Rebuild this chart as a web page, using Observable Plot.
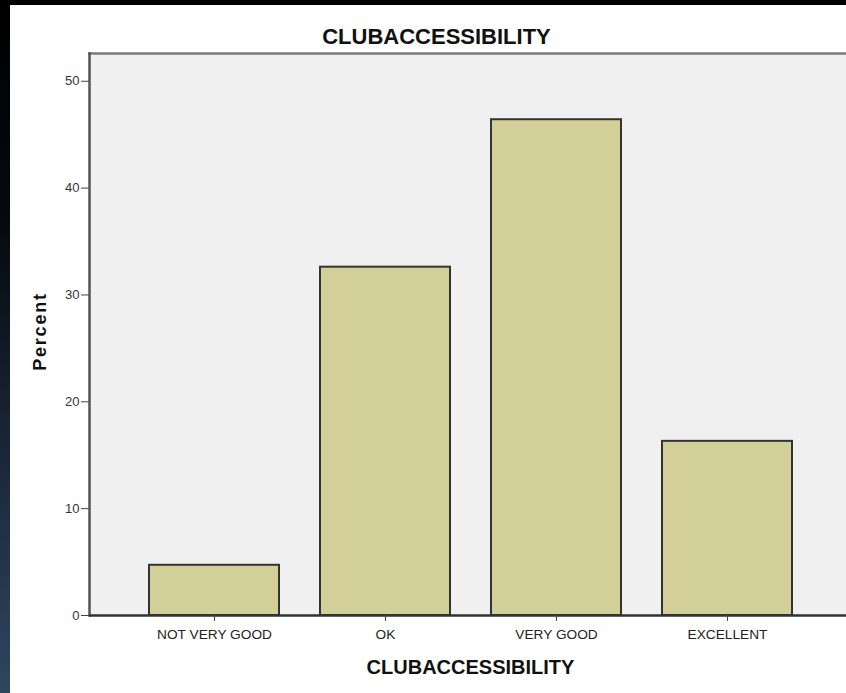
<!DOCTYPE html>
<html>
<head>
<meta charset="utf-8">
<script src="https://cdn.jsdelivr.net/npm/d3@7"></script>
<script src="https://cdn.jsdelivr.net/npm/@observablehq/plot@0.6"></script>
<style>
  html, body { margin: 0; padding: 0; width: 846px; height: 693px; overflow: hidden; background: #000; }
  #strip { position: absolute; left: 0; top: 0; width: 10px; height: 693px;
    background: linear-gradient(to bottom, #000 0%, #05080d 30%, #1a2638 65%, #30465f 100%); }
  #panel { position: absolute; left: 10px; top: 5px; width: 836px; height: 688px; background: #fff; }
  #chart { position: absolute; left: 0; top: 0; width: 860px; height: 693px; }
  #chart svg { background: transparent; overflow: visible; max-width: none !important; }
</style>
</head>
<body>
<div id="strip"></div>
<div id="panel"></div>
<div id="chart"></div>
<script>
const categories = ["NOT VERY GOOD", "OK", "VERY GOOD", "EXCELLENT"];
const percents = [4.7, 32.6, 46.4, 16.3];
const yTicks = [0, 10, 20, 30, 40, 50];
const chartTitle = "CLUBACCESSIBILITY";
const xLabel = "CLUBACCESSIBILITY";
const yLabel = "Percent";

const data = categories.map((c, i) => ({cat: c, pct: percents[i]}));
const yMax = 52.6;

const font = "'Liberation Sans', Arial, sans-serif";

const chart = Plot.plot({
  width: 860,
  height: 693,
  marginLeft: 89,
  marginTop: 53,
  marginBottom: 78,
  marginRight: 9,
  style: {fontFamily: font, background: "transparent", maxWidth: "none"},
  x: {domain: categories, paddingInner: 0.242, paddingOuter: 0.344, label: null},
  y: {domain: [0, yMax], label: null},
  marks: [
    Plot.frame({fill: "#f0f0f0", stroke: null}),
    Plot.frame({anchor: "top", stroke: "#7a7a7a", strokeWidth: 2.5}),
    Plot.barY(data, {x: "cat", y: "pct", fill: "#d3cf99", stroke: "#333", strokeWidth: 2}),
    Plot.frame({anchor: "left", stroke: "#555", strokeWidth: 2.5}),
    Plot.ruleY([0], {stroke: "#333", strokeWidth: 2.5}),
    Plot.axisY({ticks: yTicks, tickSize: 8, tickPadding: 2, fontSize: 13, stroke: "#444", fill: "#333", label: null}),
    Plot.axisX({tickSize: 6, tickPadding: 8, fontSize: 13.7, stroke: "#444", fill: "#222", label: null}),
    Plot.text([chartTitle], {frameAnchor: "top", lineAnchor: "bottom", dx: -34, dy: -10, fontSize: 22, fontWeight: "bold", fill: "#111"}),
    Plot.text([xLabel], {frameAnchor: "bottom", lineAnchor: "bottom", dy: 58, fontSize: 20, fontWeight: "bold", fill: "#111"}),
    Plot.text([yLabel], {frameAnchor: "left", textAnchor: "middle", lineAnchor: "bottom", rotate: -90, dx: -44, dy: -3, fontSize: 18, fontWeight: "bold", fill: "#111"})
  ]
});
d3.select(chart).selectAll("text")
  .filter(function() { return this.textContent === yLabel; })
  .attr("letter-spacing", "1.8px");
document.getElementById("chart").appendChild(chart);
</script>
</body>
</html>
